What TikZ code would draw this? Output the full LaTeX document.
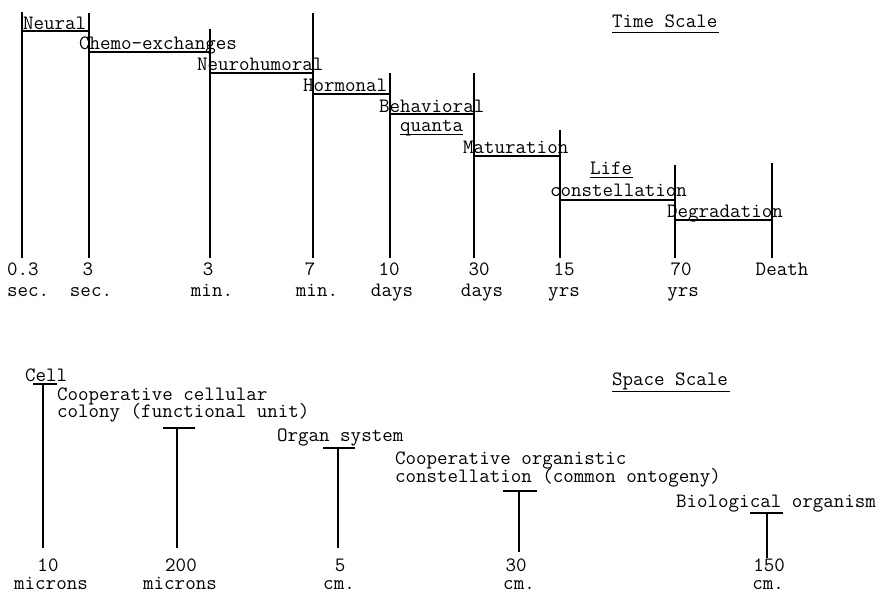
\documentclass[tikz,border=0pt]{standalone}
\usepackage{fontspec}
\begin{document}
\begin{tikzpicture}[x=1pt,y=-1pt,
  txt/.style={font=\ttfamily\fontsize{20.4}{22}\selectfont, inner sep=0pt, text height=12pt, text depth=3.5pt, anchor=base west},
  num/.style={font=\ttfamily\fontsize{20.4}{22}\selectfont, inner sep=0pt, text height=12pt, text depth=3.5pt, anchor=base},
  ln/.style={line width=1.4pt, line cap=butt},
  ul/.style={line width=1pt}]
\useasboundingbox (0,0) rectangle (880,592);
% ---------------- Time scale ----------------
\node[txt] (ts) at (612,27) {Time Scale};
\draw[ul] (ts.base west) ++(0,5) -- ++(107,0);
% verticals
\foreach \x/\t [count=\i] in {22/12, 89/13, 210/29, 313/13, 390/73, 474/73, 560/130, 675/165, 772/163}
  \draw[ln] (\x,\t) coordinate (v\i top) -- (\x,258) coordinate (v\i bot);
% horizontals
\draw[ln] (22,31) -- (89,31);
\draw[ln] (89,52) -- (210,52);
\draw[ln] (210,73) -- (313,73);
\draw[ln] (313,94) -- (390,94);
\draw[ln] (390,114) -- (474,114);
\draw[ln] (474,156) -- (560,156);
\draw[ln] (560,200) -- (675,200);
\draw[ln] (675,220) -- (772,220);
% phase labels
\node[txt] (neural) at (23,29) {Neural};
\node[txt] (chemo) at (79,49) {Chemo-exchanges};
\node[txt] (neuroh) at (197,70) {Neurohumoral};
\node[txt] (horm) at (303,91) {Hormonal};
\node[txt] (behav) at (379,112) {Behavioral};
\node[txt] (quanta) at (400,131) {quanta};
\draw[ul] (400,134) -- (463,134);
\node[txt] (matur) at (463,153) {Maturation};
\node[txt] (life) at (590,174) {Life};
\draw[ul] (590,177) -- (633,177);
\node[txt] (const) at (550,196) {constellation};
\node[txt] (degr) at (667,217) {Degradation};
% time labels
\node[txt] (t1a) at (7,275) {0.3};
\node[txt] (t1b) at (7,296) {sec.};
\node[num] (t2a) at (88,275) {3};
\node[num] (t2b) at (91,296) {sec.};
\node[num] (t3a) at (208,275) {3};
\node[num] (t3b) at (212,296) {min.};
\node[num] (t4a) at (310,275) {7};
\node[num] (t4b) at (317,296) {min.};
\node[num] (t5a) at (389,275) {10};
\node[num] (t5b) at (392,296) {days};
\node[num] (t6a) at (479,275) {30};
\node[num] (t6b) at (482,296) {days};
\node[num] (t7a) at (564,275) {15};
\node[num] (t7b) at (564,296) {yrs};
\node[num] (t8a) at (681,275) {70};
\node[num] (t8b) at (683,296) {yrs};
\node[num] (t9a) at (782,275) {Death};
% ---------------- Space scale ----------------
\node[txt] (ss) at (612,385) {Space Scale};
\draw[ul] (ss.base west) ++(0,6) -- ++(118,0);
\node[txt] (cell) at (25,381) {Cell};
\draw[ln] (33,384) -- (57,384);
\draw[ln] (43,384) -- (43,548);
\node[txt] (coop1) at (57,400) {Cooperative cellular};
\node[txt] (coop2) at (57,417) {colony (functional unit)};
\draw[ln] (163,428) -- (195,428);
\draw[ln] (177,428) -- (177,548);
\node[txt] (organ) at (277,441) {Organ system};
\draw[ln] (323,448) -- (355,448);
\draw[ln] (338,448) -- (338,548);
\node[txt] (coorg1) at (395,464) {Cooperative organistic};
\node[txt] (coorg2) at (395,482) {constellation (common ontogeny)};
\draw[ln] (503,491) -- (537,491);
\draw[ln] (519,491) -- (519,552);
\node[txt] (bio) at (676,507) {Biological organism};
\draw[ln] (750,513) -- (783,513);
\draw[ln] (767,513) -- (767,558);
% size labels
\node[num] (s1a) at (48,571) {10};
\node[num] (s1b) at (51,589) {microns};
\node[num] (s2a) at (181,571) {200};
\node[num] (s2b) at (180,589) {microns};
\node[num] (s3a) at (340,571) {5};
\node[num] (s3b) at (339,589) {cm.};
\node[num] (s4a) at (516,571) {30};
\node[num] (s4b) at (519,589) {cm.};
\node[num] (s5a) at (769,571) {150};
\node[num] (s5b) at (768,589) {cm.};
\end{tikzpicture}
\end{document}
